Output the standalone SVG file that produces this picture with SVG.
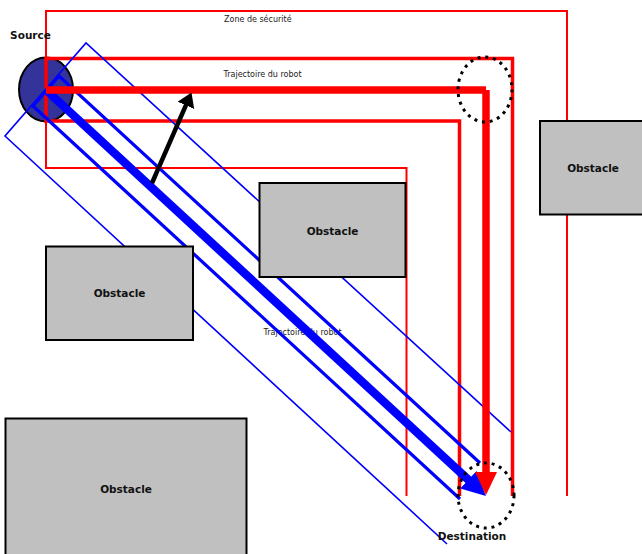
<svg xmlns="http://www.w3.org/2000/svg" width="642" height="554" viewBox="0 0 642 554">
<style>
  .lbl { font-family: "DejaVu Sans", Verdana, sans-serif; font-weight: bold; font-size: 10.5px; fill: #111; text-anchor: middle; }
  .small { font-family: "DejaVu Sans", Verdana, sans-serif; font-size: 8px; fill: #222; }
  .obst { fill: #c0c0c0; stroke: #000; stroke-width: 2; }
  .zone-red-thin { fill: none; stroke: #ff0000; stroke-width: 2; }
  .zone-red-mid { fill: none; stroke: #ff0000; stroke-width: 3.5; }
  .zone-blue-thin { fill: none; stroke: #0000ff; stroke-width: 1.6; }
  .zone-blue-mid { fill: none; stroke: #0000ff; stroke-width: 3.2; }
  .dotted { fill: none; stroke: #000; stroke-width: 3; stroke-dasharray: 3 4.8; }
</style>
<defs>
  <marker id="headRed" markerUnits="userSpaceOnUse" markerWidth="26" markerHeight="26" refX="2" refY="0" viewBox="0 -13 26 26" orient="auto">
    <path d="M0,-11 L23,0 L0,11 z" fill="#ff0000"/>
  </marker>
  <marker id="headBlue" markerUnits="userSpaceOnUse" markerWidth="28" markerHeight="28" refX="2" refY="0" viewBox="0 -14 28 28" orient="auto">
    <path d="M0,-12 L24,0 L0,12 z" fill="#0000ff"/>
  </marker>
  <marker id="headBlack" markerUnits="userSpaceOnUse" markerWidth="20" markerHeight="20" refX="1" refY="0" viewBox="0 -10 20 20" orient="auto">
    <path d="M0,-9 L14,0 L0,9 z" fill="#000"/>
  </marker>
</defs>
<rect width="642" height="554" fill="#fff"/>

<g id="source-shape">
  <ellipse cx="46" cy="89.5" rx="27" ry="32" fill="#333399" stroke="#000" stroke-width="2"/>
</g>

<g id="zone-labels">
  <text class="small" x="224" y="22">Zone de sécurité</text>
  <text class="small" x="223.5" y="77">Trajectoire du robot</text>
  <text class="small" x="263.5" y="334.5">Trajectoire du robot</text>
</g>

<g id="zone-red">
  <polyline class="zone-red-thin" points="406.5,496 406.5,168 46,168 46,11 567,11 567,496"/>
  <polyline class="zone-red-mid" points="459.5,496 459.5,121 46,121 46,58.5 512.5,58.5 512.5,496"/>
</g>

<g id="zone-blue">
  <polyline class="zone-blue-thin" points="511,432 86,43 5,136 447,544"/>
  <polyline class="zone-blue-mid" points="480,463 59,76 33,106 460,499"/>
</g>

<g id="obstacle-1">
  <rect class="obst" x="259.5" y="183" width="146" height="94"/>
  <text class="lbl" x="332.5" y="235">Obstacle</text>
</g>
<g id="obstacle-2">
  <rect class="obst" x="46" y="246.5" width="147" height="93.5"/>
  <text class="lbl" x="119.5" y="296.5">Obstacle</text>
</g>
<g id="obstacle-3">
  <rect class="obst" x="540" y="121" width="106" height="93.5"/>
  <text class="lbl" x="593" y="172">Obstacle</text>
</g>
<g id="obstacle-4">
  <rect class="obst" x="5.5" y="418.5" width="241" height="140"/>
  <text class="lbl" x="126" y="492.5">Obstacle</text>
</g>

<g id="connectors">
  <path id="path-direct" d="M46,90 L469.8,481.1" fill="none" stroke="#0000ff" stroke-width="8.5" marker-end="url(#headBlue)"/>
  <path id="path-safe" d="M46,90 H486 M486,90 V474" fill="none" stroke="#ff0000" stroke-width="7.5" marker-end="url(#headRed)"/>
  <path id="deviation" d="M152,183 L186.3,104.4" fill="none" stroke="#000" stroke-width="4.5" marker-end="url(#headBlack)"/>
</g>

<g id="waypoint">
  <ellipse class="dotted" cx="485" cy="89.5" rx="27" ry="32.5"/>
</g>

<g id="destination">
  <ellipse class="dotted" cx="486" cy="495.5" rx="28" ry="32.5"/>
  <text class="lbl" x="472" y="539.5">Destination</text>
</g>

<g id="source">
  <text class="lbl" x="30.5" y="39">Source</text>
</g>
</svg>
